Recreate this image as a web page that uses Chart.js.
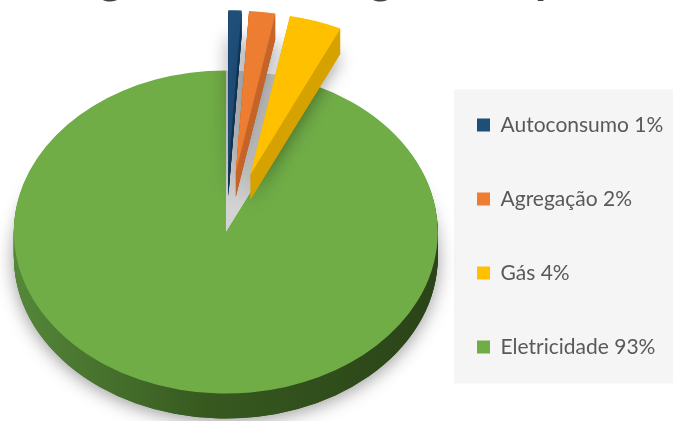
<!DOCTYPE html>
<html><head><meta charset="utf-8">
<script src="https://cdn.jsdelivr.net/npm/chart.js@4.4.1/dist/chart.umd.min.js"></script>
<style>
html,body{margin:0;padding:0;background:#fff;overflow:hidden;}
#wrap{position:relative;width:673px;height:421px;overflow:hidden;background:#fff;}
#c{position:absolute;left:0;top:0;}
#title{position:absolute;white-space:nowrap;font-weight:bold;font-family:Lato,"Open Sans",sans-serif;color:#404040;}
</style></head>
<body>
<div id="wrap"><canvas id="c" width="673" height="421"></canvas><div id="title"></div></div>
<script>
// ---- data ----
const titleText = 'Margem Bruta Segmento por Área';
const categories = ['Autoconsumo', 'Agregação', 'Gás', 'Eletricidade'];
const shares = [1, 2, 4, 93];
const legendLabels = categories.map((c, i) => c + ' ' + shares[i] + '%');

// ---- styles ----
const faceColors = ['#1F4E79', '#ED7D31', '#FFC000', '#70AD47'];
const sideColors = ['#163a5c', '#c6662b', '#d6a200', null];
const explode = [79, 79, 79, 0];
const TILT = 0.762, DEPTH = 25, SHIFT_Y = -4;
const LEGEND_LEFT = 424, LEGEND_PAD = 53;

// title: only its lower part shows above the plot (as in the reference crop)
(function () {
  const t = document.getElementById('title');
  t.textContent = titleText;
  const m = document.createElement('canvas').getContext('2d');
  const w = (s, size) => { m.font = 'bold ' + size + 'px Lato'; return m.measureText(s).width; };
  const a = w('Mar', 40), b = w('Margem Bruta Se', 40);
  const size = 40 * 270 / (b - a);
  t.style.fontSize = size + 'px';
  t.style.lineHeight = size + 'px';
  t.style.left = (100 - w('Mar', size) - 0.02 * size) + 'px';
  t.style.top = (-7 - 0.887 * size) + 'px';
})();

const legendBg = {
  id: 'legendBg',
  beforeDraw(chart) {
    const lg = chart.legend;
    if (!lg) return;
    const w = lg.width;
    const shift = LEGEND_LEFT - lg.left;
    lg.left = LEGEND_LEFT;
    lg.right = LEGEND_LEFT + w;
    const hb = lg.legendHitBoxes || [];
    hb.forEach(h => { h.left += shift; });
    if (!hb.length) return;
    const first = hb[0], last = hb[hb.length - 1];
    const ctx = chart.ctx;
    ctx.save();
    ctx.fillStyle = '#f5f5f5';
    const x = LEGEND_LEFT + LEGEND_PAD - 23, y = first.top - 25;
    ctx.fillRect(x, y, chart.width - x, last.top + last.height + 26 - y);
    ctx.restore();
  }
};

const pie3d = {
  id: 'pie3d',
  beforeDatasetsDraw(chart) {
    const ctx = chart.ctx;
    const arcs = chart.getDatasetMeta(0).data;
    const order = [3, 0, 1, 2];
    order.forEach(i => {
      const a = arcs[i];
      const mid = (a.startAngle + a.endAngle) / 2;
      const ex = explode[i];
      const dx = Math.cos(mid) * ex, dy = Math.sin(mid) * ex;
      const view = (d) => {
        ctx.translate(a.x, a.y + SHIFT_Y + d);
        ctx.scale(1, TILT);
        ctx.translate(-a.x + dx, -a.y + dy);
      };
      const path = () => {
        ctx.beginPath();
        ctx.moveTo(a.x, a.y);
        ctx.arc(a.x, a.y, a.outerRadius, a.startAngle, a.endAngle);
        ctx.closePath();
      };
      const sideFill = () => {
        if (sideColors[i]) return sideColors[i];
        const g = ctx.createLinearGradient(a.x - a.outerRadius, 0, a.x + a.outerRadius, 0);
        g.addColorStop(0, '#55873a');
        g.addColorStop(0.45, '#37591f');
        g.addColorStop(1, '#2a4318');
        return g;
      };
      ctx.save();
      view(DEPTH);
      ctx.shadowColor = 'rgba(0,0,0,0.40)';
      ctx.shadowBlur = 18;
      ctx.shadowOffsetY = 3;
      ctx.fillStyle = sideFill();
      path(); ctx.fill();
      ctx.restore();
      for (let d = DEPTH; d >= 1; d--) {
        ctx.save();
        view(d);
        ctx.fillStyle = sideFill();
        path(); ctx.fill();
        ctx.restore();
      }
      ctx.save();
      view(0);
      a.draw(ctx, chart.chartArea);
      ctx.restore();
      if (i === 3) {
        // light grey cut face visible in the gap left by the exploded slices
        ctx.save();
        view(0);
        ctx.beginPath();
        ctx.moveTo(a.x, a.y);
        ctx.arc(a.x, a.y, a.outerRadius, a.endAngle, a.startAngle);
        ctx.closePath();
        ctx.fillStyle = '#d3d3d3';
        ctx.fill();
        ctx.restore();
      }
    });
    return false;
  }
};

new Chart(document.getElementById('c'), {
  type: 'pie',
  data: {
    labels: legendLabels,
    datasets: [{ data: shares, backgroundColor: faceColors, borderWidth: 0 }]
  },
  options: {
    responsive: false,
    animation: false,
    radius: 212,
    layout: { padding: { left: 28, right: 0, top: 51, bottom: 0 } },
    plugins: {
      legend: {
        position: 'right',
        labels: {
          boxWidth: 13, boxHeight: 13, padding: LEGEND_PAD,
          font: { family: 'Lato', size: 21 },
          color: '#595959'
        }
      },
      tooltip: { enabled: false },
      title: { display: false }
    }
  },
  plugins: [legendBg, pie3d]
});
</script>
</body></html>
